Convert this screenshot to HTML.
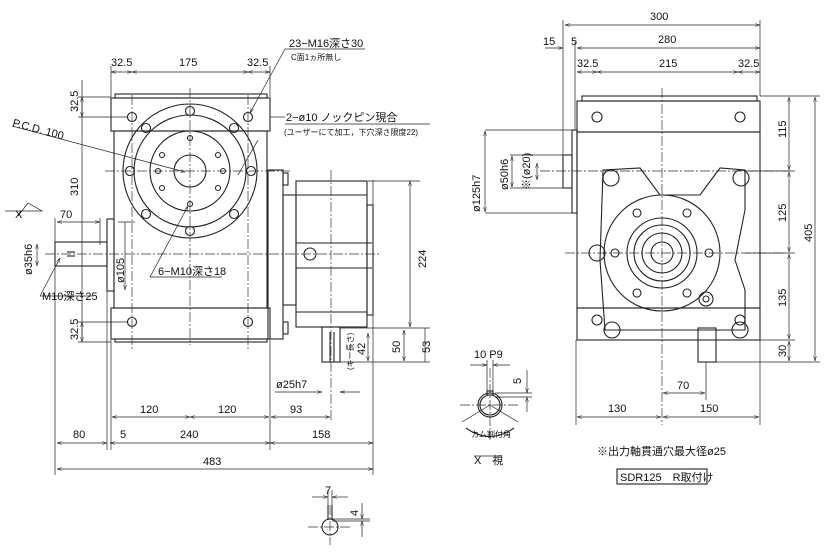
<!DOCTYPE html>
<html><head><meta charset="utf-8"><style>
html,body{margin:0;padding:0;background:#fff}
svg{display:block}
text{font-family:"Liberation Sans","Noto Sans CJK JP",sans-serif;fill:#111;font-size:11px}
.s{font-size:8px}
</style></head><body>
<svg width="827" height="554" viewBox="0 0 827 554" xmlns="http://www.w3.org/2000/svg">
<defs><marker id="a" viewBox="0 0 10 10" refX="10" refY="5" markerWidth="7" markerHeight="7" orient="auto-start-reverse"><path d="M0,2L10,5L0,8" fill="none" stroke="#222"/></marker></defs>
<g fill="none" stroke="#222" stroke-width="1.1">
<rect x="115" y="94" width="152" height="4"/>
<rect x="111" y="98" width="159" height="33"/>
<rect x="114" y="131" width="153" height="177"/>
<rect x="111" y="308" width="159" height="31"/>
<rect x="115" y="339" width="152" height="3"/>
<circle cx="190" cy="171" r="67"/><circle cx="190" cy="171" r="56"/><circle cx="190" cy="171" r="40"/><circle cx="190" cy="171" r="16"/>
<circle cx="190" cy="111" r="4.5"/><circle cx="190" cy="231" r="4.5"/><circle cx="130" cy="171" r="4.5"/><circle cx="251" cy="171" r="4.5"/>
<circle cx="146" cy="128" r="4.5"/><circle cx="234" cy="128" r="4.5"/><circle cx="146" cy="214" r="4.5"/><circle cx="234" cy="214" r="4.5"/>
<circle cx="190" cy="138" r="2.5"/><circle cx="190" cy="204" r="2.5"/><circle cx="158" cy="171" r="2.5"/><circle cx="223" cy="171" r="2.5"/>
<circle cx="162" cy="155" r="2.5"/><circle cx="218" cy="155" r="2.5"/><circle cx="162" cy="188" r="2.5"/><circle cx="218" cy="188" r="2.5"/>
<circle cx="132" cy="117" r="4.5"/><circle cx="248" cy="117" r="4.5"/><circle cx="132" cy="322" r="4.5"/><circle cx="248" cy="322" r="4.5"/>
<rect x="268" y="170" width="15" height="169"/>
<rect x="283" y="173" width="5" height="12"/><rect x="283" y="322" width="5" height="12"/>
<rect x="283" y="195" width="13" height="110"/>
<rect x="296" y="181" width="71" height="146"/><line x1="296" y1="195" x2="367" y2="195"/><line x1="296" y1="312" x2="367" y2="312"/>
<line x1="296" y1="243" x2="372" y2="243"/><line x1="296" y1="268" x2="372" y2="268"/><circle cx="310" cy="254" r="6"/>
<rect x="367" y="205" width="6" height="110"/>
<rect x="322" y="327" width="18" height="35"/><line x1="330" y1="332" x2="330" y2="362"/><line x1="334" y1="332" x2="334" y2="362"/>
<rect x="55" y="242" width="52" height="24"/><rect x="107" y="219" width="7" height="72"/>
<line x1="67" y1="252" x2="75" y2="252"/><line x1="67" y1="256" x2="75" y2="256"/>
</g>
<g fill="none" stroke="#333" stroke-width=".7" stroke-dasharray="10,2,2,2">
<line x1="190" y1="88" x2="190" y2="345"/><line x1="105" y1="171" x2="290" y2="171"/>
<line x1="45" y1="254" x2="380" y2="254"/><line x1="331" y1="170" x2="331" y2="420"/>
<line x1="132" y1="95" x2="132" y2="350"/><line x1="248" y1="95" x2="248" y2="350"/>
<line x1="662" y1="88" x2="662" y2="425"/><line x1="565" y1="253" x2="785" y2="253"/><line x1="540" y1="171" x2="790" y2="171"/>
<line x1="490" y1="368" x2="490" y2="440"/><line x1="460" y1="405" x2="520" y2="405"/>
<line x1="330" y1="505" x2="330" y2="545"/><line x1="308" y1="527" x2="352" y2="527"/>
</g>
<g fill="none" stroke="#222" stroke-width="1.1">
<rect x="582" y="96" width="175" height="5"/>
<rect x="577" y="101" width="183" height="31"/>
<rect x="577" y="132" width="183" height="176"/>
<rect x="577" y="308" width="183" height="32"/>
<rect x="572" y="130" width="5" height="83"/><rect x="563" y="155" width="9" height="33"/>
<path d="M603,170 L640,168 L660,195 L700,195 L720,168 L745,170 L745,210 L735,260 L745,290 L745,330 L605,330 L600,260 Z"/>
<circle cx="662" cy="253" r="58"/><circle cx="662" cy="253" r="35"/><circle cx="662" cy="253" r="28"/><circle cx="662" cy="253" r="20"/><circle cx="662" cy="253" r="11"/>
<circle cx="637" cy="213" r="4"/><circle cx="687" cy="213" r="4"/><circle cx="637" cy="293" r="4"/><circle cx="687" cy="293" r="4"/>
<circle cx="615" cy="253" r="4"/><circle cx="709" cy="253" r="4"/>
<circle cx="611" cy="178" r="8"/><circle cx="741" cy="178" r="8"/><circle cx="612" cy="330" r="8"/><circle cx="740" cy="330" r="8"/>
<circle cx="597" cy="253" r="8"/><circle cx="706" cy="299" r="7"/><circle cx="706" cy="299" r="3"/>
<circle cx="597" cy="117" r="5"/><circle cx="740" cy="117" r="5"/><circle cx="597" cy="320" r="5"/><circle cx="740" cy="320" r="5"/>
<rect x="698" y="328" width="18" height="34"/>
<circle cx="490" cy="405" r="12"/><circle cx="490" cy="405" r="10"/><rect x="487" y="391" width="6" height="4"/>
<path d="M466,428 Q490,445 514,428"/>
<circle cx="330" cy="527" r="8"/><line x1="328" y1="505" x2="328" y2="520"/><line x1="332" y1="505" x2="332" y2="520"/>
<rect x="617" y="469" width="90" height="15"/>
</g>
<g fill="none" stroke="#222" stroke-width=".7">
<line x1="111" y1="72" x2="132" y2="72" marker-start="url(#a)" marker-end="url(#a)"/>
<line x1="132" y1="72" x2="248" y2="72" marker-start="url(#a)" marker-end="url(#a)"/>
<line x1="248" y1="72" x2="270" y2="72" marker-start="url(#a)" marker-end="url(#a)"/>
<line x1="111" y1="66" x2="111" y2="97"/><line x1="270" y1="66" x2="270" y2="97"/>
<line x1="82" y1="80" x2="82" y2="338"/>
<line x1="82" y1="97" x2="82" y2="117" marker-start="url(#a)" marker-end="url(#a)"/>
<line x1="78" y1="97" x2="111" y2="97"/><line x1="78" y1="117" x2="128" y2="117"/>
<line x1="82" y1="322" x2="82" y2="342" marker-start="url(#a)" marker-end="url(#a)"/>
<line x1="78" y1="322" x2="128" y2="322"/><line x1="78" y1="342" x2="111" y2="342"/>
<line x1="57" y1="222" x2="100" y2="222" marker-start="url(#a)" marker-end="url(#a)"/>
<line x1="55" y1="218" x2="55" y2="475"/><line x1="100" y1="218" x2="100" y2="245"/>
<line x1="37" y1="244" x2="37" y2="266" marker-start="url(#a)" marker-end="url(#a)"/>
<line x1="125" y1="222" x2="125" y2="290" marker-end="url(#a)"/><line x1="118" y1="222" x2="135" y2="222"/>
<line x1="110" y1="443" x2="270" y2="443" marker-start="url(#a)" marker-end="url(#a)"/>
<line x1="57" y1="443" x2="107" y2="443" marker-start="url(#a)" marker-end="url(#a)"/>
<line x1="270" y1="443" x2="373" y2="443" marker-start="url(#a)" marker-end="url(#a)"/>
<line x1="112" y1="417" x2="190" y2="417" marker-start="url(#a)" marker-end="url(#a)"/>
<line x1="190" y1="417" x2="269" y2="417" marker-start="url(#a)" marker-end="url(#a)"/>
<line x1="271" y1="417" x2="330" y2="417" marker-start="url(#a)" marker-end="url(#a)"/>
<line x1="57" y1="469" x2="373" y2="469" marker-start="url(#a)" marker-end="url(#a)"/>
<line x1="107" y1="290" x2="107" y2="450"/><line x1="111" y1="340" x2="111" y2="450"/><line x1="270" y1="340" x2="270" y2="450"/><line x1="373" y1="180" x2="373" y2="475"/>
<line x1="275" y1="392" x2="322" y2="392" marker-end="url(#a)"/><line x1="360" y1="392" x2="340" y2="392" marker-end="url(#a)"/>
<line x1="368" y1="181" x2="420" y2="181"/><line x1="410" y1="181" x2="410" y2="327" marker-start="url(#a)" marker-end="url(#a)"/>
<line x1="340" y1="328" x2="430" y2="328"/><line x1="340" y1="362" x2="430" y2="362"/>
<line x1="368" y1="333" x2="368" y2="361" marker-start="url(#a)" marker-end="url(#a)"/>
<line x1="404" y1="330" x2="404" y2="361" marker-start="url(#a)" marker-end="url(#a)"/>
<line x1="425" y1="328" x2="425" y2="362"/>
<line x1="285" y1="49" x2="365" y2="49"/><line x1="285" y1="49" x2="250" y2="113" marker-end="url(#a)"/>
<line x1="270" y1="117" x2="285" y2="117"/><line x1="285" y1="124" x2="430" y2="124"/>
<line x1="12" y1="126" x2="185" y2="172" marker-end="url(#a)"/>
<line x1="150" y1="277" x2="222" y2="277"/><line x1="150" y1="277" x2="188" y2="206" marker-end="url(#a)"/>
<line x1="238" y1="175" x2="258" y2="140"/>
<line x1="40" y1="296" x2="92" y2="296"/><line x1="40" y1="296" x2="60" y2="258" marker-end="url(#a)"/>
<path d="M5,211 L28,211 M18,216 L28,203 L42,211 L28,211"/>
<line x1="565" y1="25" x2="760" y2="25" marker-start="url(#a)" marker-end="url(#a)"/>
<line x1="577" y1="48" x2="760" y2="48" marker-start="url(#a)" marker-end="url(#a)"/>
<line x1="545" y1="48" x2="563" y2="48" marker-end="url(#a)"/>
<line x1="577" y1="72" x2="597" y2="72" marker-start="url(#a)" marker-end="url(#a)"/>
<line x1="597" y1="72" x2="738" y2="72" marker-start="url(#a)" marker-end="url(#a)"/>
<line x1="738" y1="72" x2="760" y2="72" marker-start="url(#a)" marker-end="url(#a)"/>
<line x1="563" y1="20" x2="563" y2="155"/><line x1="760" y1="20" x2="760" y2="96"/><line x1="575" y1="42" x2="575" y2="130"/>
<line x1="760" y1="96" x2="820" y2="96"/><line x1="745" y1="171" x2="795" y2="171"/><line x1="745" y1="253" x2="795" y2="253"/><line x1="760" y1="340" x2="795" y2="340"/><line x1="716" y1="362" x2="820" y2="362"/>
<line x1="789" y1="97" x2="789" y2="170" marker-start="url(#a)" marker-end="url(#a)"/>
<line x1="789" y1="172" x2="789" y2="252" marker-start="url(#a)" marker-end="url(#a)"/>
<line x1="789" y1="254" x2="789" y2="339" marker-start="url(#a)" marker-end="url(#a)"/>
<line x1="789" y1="341" x2="789" y2="361" marker-start="url(#a)" marker-end="url(#a)"/>
<line x1="815" y1="97" x2="815" y2="361" marker-start="url(#a)" marker-end="url(#a)"/>
<line x1="485" y1="130" x2="572" y2="130"/><line x1="485" y1="213" x2="572" y2="213"/>
<line x1="485" y1="131" x2="485" y2="212" marker-start="url(#a)" marker-end="url(#a)"/>
<line x1="510" y1="155" x2="563" y2="155"/><line x1="510" y1="188" x2="563" y2="188"/>
<line x1="512" y1="156" x2="512" y2="187" marker-start="url(#a)" marker-end="url(#a)"/>
<line x1="537" y1="163" x2="537" y2="180" marker-start="url(#a)" marker-end="url(#a)"/>
<line x1="576" y1="340" x2="576" y2="425"/><line x1="760" y1="340" x2="760" y2="425"/><line x1="706" y1="362" x2="706" y2="400"/>
<line x1="577" y1="417" x2="661" y2="417" marker-start="url(#a)" marker-end="url(#a)"/>
<line x1="663" y1="417" x2="759" y2="417" marker-start="url(#a)" marker-end="url(#a)"/>
<line x1="663" y1="393" x2="705" y2="393" marker-start="url(#a)" marker-end="url(#a)"/>
<line x1="470" y1="365" x2="487" y2="365" marker-end="url(#a)"/><line x1="510" y1="365" x2="493" y2="365" marker-end="url(#a)"/>
<line x1="487" y1="360" x2="487" y2="392"/><line x1="493" y1="360" x2="493" y2="392"/>
<line x1="495" y1="393" x2="532" y2="393"/><line x1="495" y1="397" x2="532" y2="397"/>
<line x1="527" y1="370" x2="527" y2="393" marker-end="url(#a)"/><line x1="527" y1="412" x2="527" y2="397" marker-end="url(#a)"/>
<line x1="490" y1="405" x2="462" y2="422"/><line x1="490" y1="405" x2="518" y2="422"/>
<line x1="474" y1="456" x2="502" y2="456"/>
<line x1="312" y1="497" x2="328" y2="497" marker-end="url(#a)"/><line x1="348" y1="497" x2="332" y2="497" marker-end="url(#a)"/>
<line x1="328" y1="490" x2="328" y2="505"/><line x1="332" y1="490" x2="332" y2="505"/>
<line x1="332" y1="519" x2="370" y2="519"/><line x1="332" y1="521" x2="370" y2="521"/>
<line x1="362" y1="503" x2="362" y2="519" marker-end="url(#a)"/><line x1="362" y1="537" x2="362" y2="521" marker-end="url(#a)"/>
</g>
<text x="111" y="66">32.5</text><text x="179" y="66">175</text><text x="247" y="66">32.5</text>
<text x="289" y="47">23−M16深さ30</text><text x="291" y="60" class="s">C面1ヵ所無し</text>
<text x="286" y="121">2−ø10 ノックピン現合</text>
<text x="284" y="135" class="s">(ユーザーにて加工，下穴深さ限度22)</text>
<text x="12" y="126" transform="rotate(15 12 126)">P.C.D. 100</text>
<text x="158" y="275">6−M10深さ18</text>
<text x="42" y="300">M10深さ25</text>
<text x="60" y="218">70</text>
<text x="15" y="218">X</text>
<g font-size="11"><text transform="translate(78,112) rotate(-90)">32.5</text>
<text transform="translate(78,196) rotate(-90)">310</text>
<text transform="translate(78,340) rotate(-90)">32.5</text>
<text transform="translate(32,275) rotate(-90)">ø35h6</text>
<text transform="translate(124,283) rotate(-90)">ø105</text>
<text transform="translate(426,268) rotate(-90)">224</text>
<text transform="translate(430,353) rotate(-90)">53</text>
<text transform="translate(400,353) rotate(-90)">50</text>
<text transform="translate(365,355) rotate(-90)">42</text>
<text class="s" transform="translate(353,370) rotate(-90)">(キー長さ)</text>
<text transform="translate(480,212) rotate(-90)">ø125h7</text>
<text transform="translate(508,190) rotate(-90)">ø50h6</text>
<text transform="translate(530,190) rotate(-90)">※(ø20)</text>
<text transform="translate(786,138) rotate(-90)">115</text>
<text transform="translate(786,222) rotate(-90)">125</text>
<text transform="translate(786,307) rotate(-90)">135</text>
<text transform="translate(786,357) rotate(-90)">30</text>
<text transform="translate(812,242) rotate(-90)">405</text>
<text transform="translate(521,384) rotate(-90)">5</text>
<text transform="translate(358,516) rotate(-90)">4</text></g>
<text x="276" y="388">ø25h7</text>
<text x="140" y="413">120</text><text x="218" y="413">120</text><text x="290" y="413">93</text>
<text x="73" y="438">80</text><text x="120" y="438">5</text><text x="180" y="438">240</text><text x="312" y="438">158</text>
<text x="203" y="465">483</text>
<text x="325" y="494">7</text>
<text x="650" y="20">300</text><text x="658" y="43">280</text><text x="659" y="67">215</text>
<text x="543" y="45">15</text><text x="571" y="45">5</text><text x="577" y="67">32.5</text><text x="738" y="67">32.5</text>
<text x="677" y="389">70</text><text x="608" y="412">130</text><text x="700" y="412">150</text>
<text x="474" y="358">10 P9</text>
<text x="471" y="437" class="s">カム割付角</text>
<text x="474" y="464">X　視</text>
<text x="597" y="455" font-size="10">※出力軸貫通穴最大径ø25</text>
<text x="620" y="481" font-size="10">SDR125　R取付け</text>
</svg>
</body></html>
